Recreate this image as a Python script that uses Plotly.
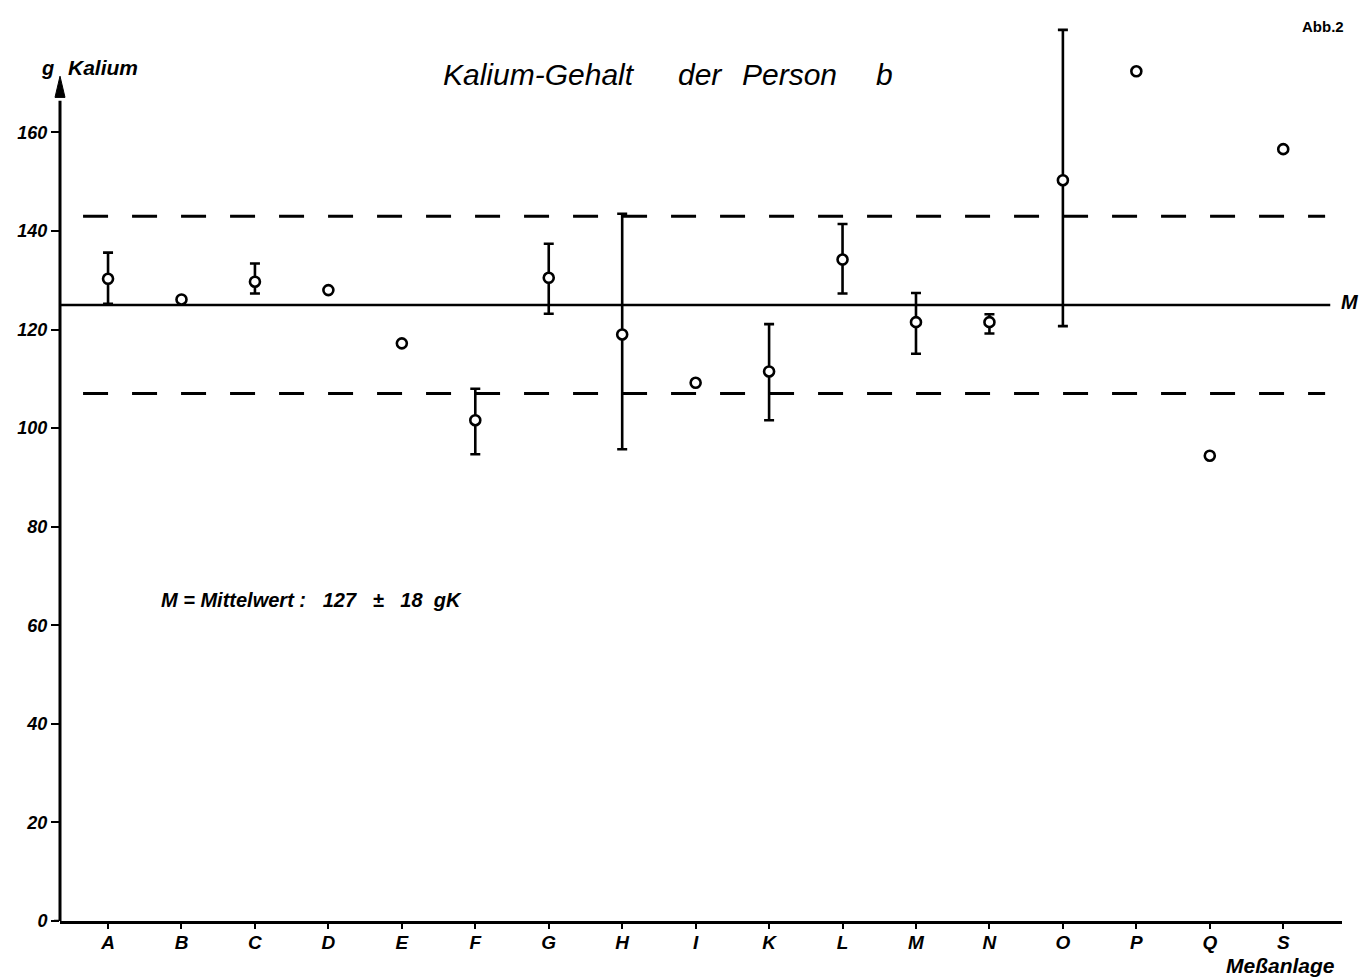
import plotly.graph_objects as go

# ---- data ----
categories = ["A", "B", "C", "D", "E", "F", "G", "H", "I", "K", "L", "M", "N", "O", "P", "Q", "S"]
values = [130.3, 126.1, 129.7, 128.0, 117.2, 101.6, 130.5, 119.0, 109.2, 111.5,
          134.2, 121.5, 121.5, 150.3, 172.4, 94.4, 156.6]
upper = [135.6, None, 133.4, None, None, 108.0, 137.4, 143.5, None, 121.1,
         141.4, 127.4, 123.1, 180.8, None, None, None]
lower = [125.2, None, 127.3, None, None, 94.7, 123.2, 95.7, None, 101.6,
         127.3, 115.1, 119.2, 120.7, None, None, None]
mean_value = 125.0
band = 18.0
y_ticks = [0, 20, 40, 60, 80, 100, 120, 140, 160]

FONT = "Liberation Sans"
X_MIN, X_MAX = 0.346, 17.80
Y_MAX = 182.8
Y_ARROW = 171.4

W, H = 1371, 979
ML, MR, MT, MB = 60, 29, 20, 58
PLOT_W = W - ML - MR

xpos = list(range(1, len(categories) + 1))

ex, ey, eplus, eminus = [], [], [], []
px_, py_ = [], []
for x, v, u, l in zip(xpos, values, upper, lower):
    if u is not None:
        ex.append(x); ey.append(v)
        eplus.append(u - v); eminus.append(v - l)
    else:
        px_.append(x); py_.append(v)

marker = dict(symbol="circle", size=10, color="white", line=dict(color="black", width=2.6))

fig = go.Figure()
fig.add_trace(go.Scatter(
    x=ex, y=ey, mode="markers", marker=marker,
    error_y=dict(type="data", symmetric=False, array=eplus, arrayminus=eminus,
                 color="black", thickness=2.6, width=5),
    showlegend=False, hoverinfo="skip"))
fig.add_trace(go.Scatter(x=px_, y=py_, mode="markers", marker=marker,
                         showlegend=False, hoverinfo="skip"))

# mean and band lines
fig.add_shape(type="line", x0=X_MIN, x1=17.64, y0=mean_value, y1=mean_value,
              line=dict(color="black", width=2.5), layer="below")
for yv in (mean_value + band, mean_value - band):
    fig.add_shape(type="line", x0=0.66, x1=17.57, y0=yv, y1=yv,
                  line=dict(color="black", width=3, dash="25px,24px"), layer="below")

# y axis line with arrow (x in paper coords so it is not clipped)
fig.add_shape(type="line", xref="paper", yref="y", x0=0, x1=0, y0=0, y1=Y_ARROW - 5,
              line=dict(color="black", width=3))
hw = 5.0 / PLOT_W
fig.add_shape(type="path", xref="paper", yref="y",
              path=f"M {-hw} {Y_ARROW-4.3} L 0 {Y_ARROW} L {hw} {Y_ARROW-4.3} Z",
              fillcolor="black", line=dict(color="black", width=1))
# small extension of the x axis to the left of the y axis
fig.add_shape(type="line", xref="paper", yref="y", x0=-6.0 / PLOT_W, x1=0, y0=0, y1=0,
              line=dict(color="black", width=2.5))

bi = dict(family=FONT, size=19, color="black", weight="bold", style="italic")

fig.update_layout(
    width=W, height=H,
    margin=dict(l=ML, r=MR, t=MT, b=MB),
    paper_bgcolor="white", plot_bgcolor="white",
    xaxis=dict(range=[X_MIN, X_MAX], tickmode="array", tickvals=xpos, ticktext=categories,
               showgrid=False, zeroline=False, showline=True, linecolor="black", linewidth=3,
               ticks="outside", ticklen=5, tickwidth=2, tickcolor="black",
               ticklabelstandoff=-3, tickfont=bi),
    yaxis=dict(range=[0, Y_MAX], tickmode="array", tickvals=y_ticks,
               ticktext=[str(t) for t in y_ticks],
               showgrid=False, zeroline=False, showline=False,
               ticks="outside", ticklen=8, tickwidth=2, tickcolor="black",
               tickfont=dict(bi, size=18)),
    font=dict(family=FONT),
)

def P(xp, yp):
    # convert page pixels to paper coords
    return (xp - ML) / PLOT_W, 1 - (yp - MT) / (H - MT - MB)

def ann(text, xp, yp, xanchor="left", font=None):
    x, y = P(xp, yp)
    fig.add_annotation(text=text, x=x, y=y, xref="paper", yref="paper",
                       xanchor=xanchor, yanchor="middle", showarrow=False,
                       font=font or bi)

title_font = dict(family=FONT, size=30, color="black", style="italic")
for txt, xp in (("Kalium-Gehalt", 441), ("der", 676), ("Person", 740), ("b", 874)):
    ann(txt, xp, 74, "left", title_font)

ann("g", 39, 68, "left", dict(bi, size=20))
ann("Kalium", 66, 68, "left", dict(bi, size=21))
ann("Abb.2", 1346, 27, "right", dict(family=FONT, size=15, color="black", weight="bold"))
ann("M", 1339, 302, "left", dict(bi, size=20))
ann("Meßanlage", 1337, 966, "right", dict(bi, size=21))
ann("M = Mittelwert\u00a0:\u00a0\u00a0\u00a0127\u00a0\u00a0\u00a0\u00b1\u00a0\u00a0\u00a018\u00a0\u00a0gK", 159, 600, "left",
    dict(bi, size=20))

fig.write_html("out.html")
